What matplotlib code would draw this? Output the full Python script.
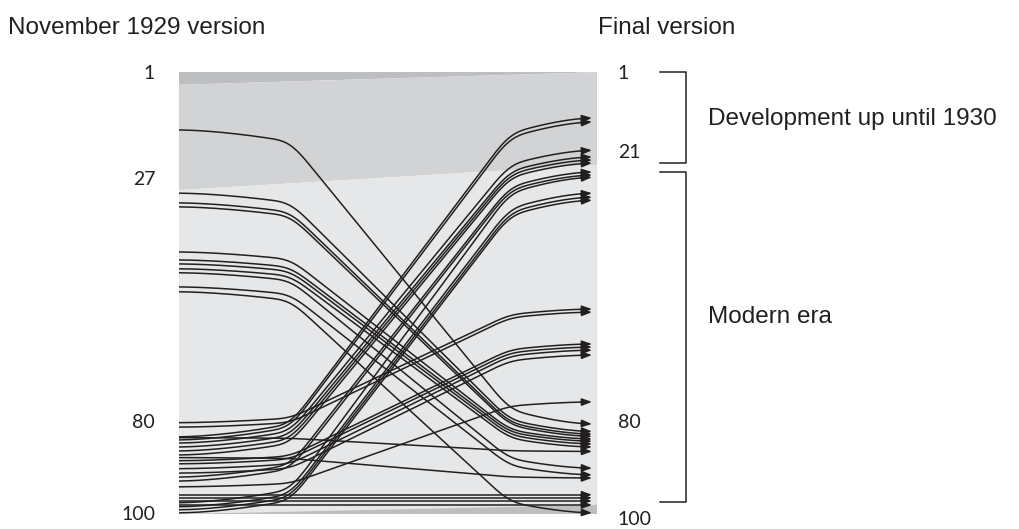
import numpy as np
import matplotlib.pyplot as plt
from matplotlib.transforms import blended_transform_factory

# rank of each item in the November 1929 version and in the final version
nov_rank = [13.4, 27.7, 29.9, 30.8, 41.0, 42.8, 43.7, 44.8, 45.7, 48.9, 50.0,
            79.6, 80.6, 82.8, 83.5, 84.2, 85.1, 86.0, 86.9, 88.2, 88.9, 90.0,
            91.0, 91.9, 92.8, 94.1, 97.7, 98.6, 99.3, 100.0,
            95.9, 96.6, 97.3, 98.2, 83.0, 87.5]
final_rank = [79.9, 81.6, 82.2, 82.7, 83.3, 83.8, 84.4, 85.1, 89.9, 91.4, 100.0,
              53.9, 54.6, 10.7, 11.6, 18.0, 19.5, 20.2, 20.9, 61.8, 62.5, 63.2,
              64.3, 22.9, 23.6, 74.9, 24.1, 27.7, 28.6, 29.3,
              95.9, 96.6, 97.3, 98.2, 86.1, 92.1]

# shaded bands: (top, bottom) rank on the left side and on the right side
band_missing_top = [(0.3, 3.2), (0.3, 0.35)]
band_early = [(3.2, 27.0), (0.35, 21.3)]
band_modern = [(27.0, 100.25), (21.3, 98.2)]
band_missing_bottom = [(100.25, 100.25), (98.2, 100.25)]

left_ticks = [("1", 0.6), ("27", 24.5), ("80", 79.5), ("100", 100.3)]
right_ticks = [("1", 0.6), ("21", 18.6), ("80", 79.5), ("100", 101.6)]

INK = "#231f20"


def flow(t, a=0.27, b=0.80, d1=0.04, d2=0.05):
    s = np.empty_like(t)
    m = (1 - d1 - d2) / (b - a)
    lo = t < a
    hi = t > b
    mid = ~lo & ~hi
    s[lo] = d1 * (t[lo] / a) ** 1.6
    s[mid] = d1 + m * (t[mid] - a)
    s[hi] = 1 - d2 * ((1 - t[hi]) / (1 - b)) ** 1.6
    k = np.hanning(49)
    k /= k.sum()
    s = np.convolve(np.pad(s, 24, mode="edge"), k, mode="valid")
    return (s - s[0]) / (s[-1] - s[0])


fig = plt.figure(figsize=(10.2, 5.29), dpi=100)
ax = fig.add_axes([179 / 1020, 1 - 514 / 529, 418 / 1020, 442 / 529])
ax.set_xlim(0, 1)
ax.set_ylim(100.25, 0.3)
ax.axis("off")

for band, col in [(band_missing_top, "#bdbec0"), (band_early, "#d2d3d5"),
                  (band_modern, "#e6e7e8"), (band_missing_bottom, "#bdbec0")]:
    (lt, lb), (rt, rb) = band
    ax.fill([0, 1, 1, 0], [lt, rt, rb, lb], color=col, lw=0, zorder=1)
ax.plot([1, 1], [0.3, 100.25], color="#c8c9cb", lw=1.0, zorder=1)

t = np.linspace(0, 1, 400)
s = flow(t)
x_end = 0.988
for l, r in zip(nov_rank, final_rank):
    x = t * x_end
    y = l + (r - l) * s
    ax.plot(x[:-3], y[:-3], color=INK, lw=1.1, zorder=3, solid_capstyle="butt")
    ax.annotate("", xy=(x[-1], y[-1]), xytext=(x[-12], y[-12]),
                arrowprops=dict(arrowstyle="-|>,head_length=0.6,head_width=0.22",
                                color=INK, lw=1.1, shrinkA=0, shrinkB=0),
                zorder=4)

tr = blended_transform_factory(ax.transAxes, ax.transData)
num_font = dict(family="Lato", size=14, color=INK)
for lab, r in left_ticks:
    ax.text(-0.057, r, lab, transform=tr, ha="right", va="center", **num_font)
for lab, r in right_ticks:
    ax.text(1.05, r, lab, transform=tr, ha="left", va="center", **num_font)

# brackets for the two eras
for top, bot in [(0.3, 20.9), (22.9, 97.5)]:
    ax.plot([1.151, 1.213, 1.213, 1.151], [top, top, bot, bot], color=INK,
            lw=1.1, transform=tr, clip_on=False)

txt_font = dict(family="Liberation Sans", size=17.5, color=INK)
ax.text(1.266, 11.0, "Development up until 1930", transform=tr, ha="left",
        va="center", **txt_font)
ax.text(1.266, 55.7, "Modern era", transform=tr, ha="left", va="center", **txt_font)

fig.text(8 / 1020, 1 - 28 / 529, "November 1929 version", ha="left", va="center", **txt_font)
fig.text(598 / 1020, 1 - 28 / 529, "Final version", ha="left", va="center", **txt_font)

fig.savefig("out.png", dpi=100)
